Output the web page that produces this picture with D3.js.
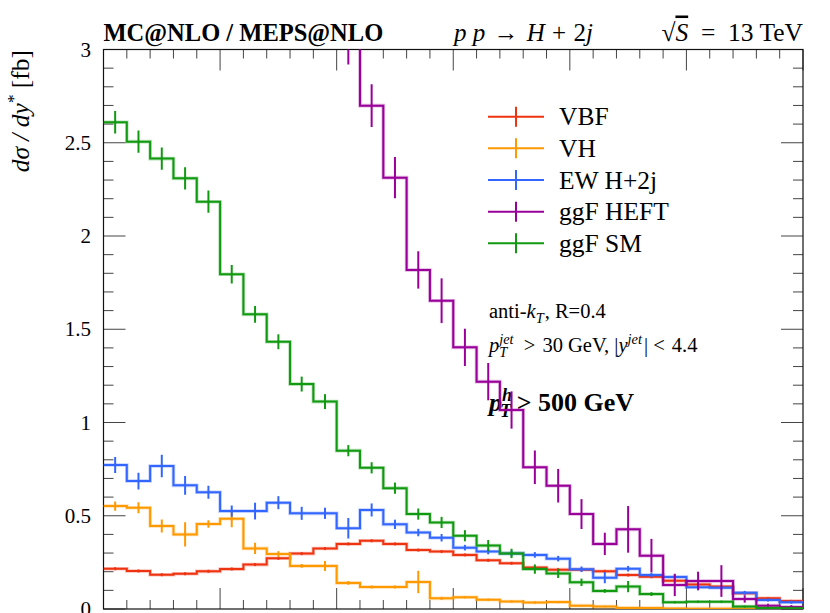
<!DOCTYPE html>
<html>
<head>
<meta charset="utf-8">
<script src="https://cdn.jsdelivr.net/npm/d3@7"></script>
<style>
  html, body { margin: 0; padding: 0; background: #fff; }
  svg { display: block; font-family: "Liberation Serif", "DejaVu Serif", serif; }
  text { white-space: pre; }
</style>
</head>
<body>
<svg id="chart" width="830" height="613"></svg>
<script>
// -------------------- DATA -------------------- //
const binEdges = [0, 0.1, 0.2, 0.3, 0.4, 0.5, 0.6, 0.7, 0.8, 0.9, 1.0, 1.1, 1.2, 1.3, 1.4, 1.5,
                  1.6, 1.7, 1.8, 1.9, 2.0, 2.1, 2.2, 2.3, 2.4, 2.5, 2.6, 2.7, 2.8, 2.9, 3.0];

const vbf    = [0.216, 0.204, 0.184, 0.189, 0.202, 0.214, 0.238, 0.272, 0.297, 0.324, 0.349, 0.366, 0.349, 0.316, 0.308,
                0.290, 0.261, 0.245, 0.222, 0.211, 0.211, 0.202, 0.182, 0.173, 0.152, 0.132, 0.120, 0.084, 0.057, 0.043];
const vbfErr = [0.008, 0.008, 0.008, 0.008, 0.008, 0.008, 0.008, 0.008, 0.008, 0.008, 0.008, 0.008, 0.008, 0.008, 0.008,
                0.008, 0.008, 0.008, 0.008, 0.008, 0.008, 0.008, 0.008, 0.008, 0.008, 0.008, 0.008, 0.006, 0.006, 0.006];

const vh     = [0.552, 0.543, 0.445, 0.400, 0.456, 0.484, 0.325, 0.295, 0.231, 0.231, 0.140, 0.118, 0.118, 0.145, 0.057,
                0.063, 0.050, 0.040, 0.035, 0.037, 0.018, 0.013, 0.006, 0.005, 0.003, 0.002, 0.002, 0.001, 0.001, 0.001];
const vhErr  = [0.025, 0.030, 0.035, 0.065, 0.020, 0.045, 0.030, 0.015, 0.010, 0.027, 0.010, 0.008, 0.008, 0.060, 0.008,
                0.006, 0.006, 0.006, 0.006, 0.006, 0.004, 0.004, 0.003, 0.003, 0.002, 0.002, 0.002, 0.001, 0.001, 0.001];

const ew     = [0.772, 0.686, 0.767, 0.663, 0.626, 0.525, 0.525, 0.570, 0.513, 0.513, 0.433, 0.531, 0.454, 0.410, 0.382,
                0.329, 0.308, 0.298, 0.290, 0.270, 0.213, 0.168, 0.216, 0.182, 0.172, 0.117, 0.114, 0.087, 0.048, 0.036];
const ewErr  = [0.043, 0.045, 0.060, 0.050, 0.035, 0.030, 0.045, 0.035, 0.035, 0.030, 0.055, 0.035, 0.025, 0.020, 0.020,
                0.015, 0.015, 0.015, 0.015, 0.015, 0.015, 0.030, 0.015, 0.012, 0.012, 0.010, 0.010, 0.010, 0.008, 0.008];

// ggF HEFT runs off the top of the frame for the first bins
const heft    = [null, null, null, null, null, null, null, null, null, null, 3.030, 2.699, 2.313, 1.818, 1.653,
                 1.403, 1.219, 1.067, 0.760, 0.661, 0.509, 0.349, 0.427, 0.286, 0.129, 0.150, 0.150, 0.054, 0.018, 0.011];
const heftErr = [null, null, null, null, null, null, null, null, null, null, 0.110, 0.115, 0.110, 0.100, 0.120,
                 0.100, 0.100, 0.100, 0.090, 0.090, 0.080, 0.060, 0.125, 0.090, 0.060, 0.050, 0.085, 0.020, 0.010, 0.010];

const sm     = [2.610, 2.506, 2.415, 2.309, 2.184, 1.795, 1.580, 1.433, 1.206, 1.112, 0.849, 0.757, 0.648, 0.509, 0.464,
                0.393, 0.340, 0.298, 0.214, 0.191, 0.143, 0.097, 0.120, 0.080, 0.036, 0.039, 0.039, 0.013, 0.005, 0.004];
const smErr  = [0.060, 0.060, 0.060, 0.060, 0.060, 0.050, 0.045, 0.040, 0.040, 0.040, 0.030, 0.030, 0.030, 0.030, 0.030,
                0.030, 0.030, 0.025, 0.025, 0.025, 0.020, 0.010, 0.030, 0.010, 0.006, 0.006, 0.006, 0.005, 0.004, 0.004];

const seriesNames  = ["VBF", "VH", "EW H+2j", "ggF HEFT", "ggF SM"];
const seriesColors = ["#EE3311", "#FF9900", "#3366FF", "#990099", "#119911"];

const yTickLabels = ["0", "0.5", "1", "1.5", "2", "2.5", "3"];

// -------------------- SETUP -------------------- //
const svg = d3.select("#chart");

const plotLeft = 103.5, plotRight = 803, plotTop = 49.5, plotBottom = 609;

let x = d3.scaleLinear().domain([0, 3]).range([plotLeft, plotRight]);
let y = d3.scaleLinear().domain([0, 3]).range([plotBottom, plotTop]);

svg.append("clipPath").attr("id", "plotclip")
    .append("rect")
    .attr("x", plotLeft).attr("y", plotTop)
    .attr("width", plotRight - plotLeft).attr("height", plotBottom - plotTop);

// one <text> per label, sub/superscripts as shifted tspans
function richText(x0, yb, size, weight, pieces, anchor) {
    let t = svg.append("text")
        .attr("x", x0).attr("y", yb)
        .attr("font-size", size).attr("font-weight", weight)
        .attr("text-anchor", anchor || "start");
    let shift = 0, pending = 0;
    function span(txt, o) {
        let s = t.append("tspan")
            .attr("dy", o.shift - shift)
            .attr("dx", o.dx || 0)
            .attr("font-size", o.size)
            .attr("font-style", o.it ? "italic" : "normal")
            .text(txt);
        if (o.over) s.style("text-decoration", "overline");
        shift = o.shift;
        return s;
    }
    pieces.forEach(p => {
        if (p.sup != null || p.sub != null) {
            let ss = size * 0.7, wSup = 0, wSub = 0;
            if (p.sup != null) {
                let s = span(p.sup, {shift: -size * 0.4, size: ss, it: true, dx: pending + (p.supdx || 0)});
                wSup = s.node().getComputedTextLength() + (p.supdx || 0);
                pending = 0;
            }
            if (p.sub != null) {
                let back = p.sup != null ? -wSup : 0;
                let s = span(p.sub, {shift: size * 0.22, size: ss, it: true, dx: pending + back + (p.subdx || 0)});
                wSub = s.node().getComputedTextLength() + (p.subdx || 0);
                pending = 0;
            }
            if (p.sup != null && p.sub != null) pending += Math.max(0, wSup - wSub);
            pending += p.after || 0;
        } else {
            span(p.t, {shift: 0, size: size, it: p.it, over: p.over, dx: pending + (p.dx || 0)});
            pending = 0;
        }
    });
    return t;
}

// -------------------- TICKS + FRAME -------------------- //
const ticks = svg.append("g").attr("stroke", "#444").attr("stroke-width", 1);
const minorY = d3.range(0, 31).map(d => d / 10);   // tick positions on y every 0.1
minorY.forEach(v => {
    let major = Math.abs(v * 2 - Math.round(v * 2)) < 1e-6;
    let len = major ? 22 : 10;
    ticks.append("line").attr("x1", plotLeft).attr("x2", plotLeft + len).attr("y1", y(v)).attr("y2", y(v));
    ticks.append("line").attr("x1", plotRight).attr("x2", plotRight - len).attr("y1", y(v)).attr("y2", y(v));
});
binEdges.forEach(v => {
    let major = Math.abs(v * 2 - Math.round(v * 2)) < 1e-6;
    let len = major ? 21 : 9;
    ticks.append("line").attr("x1", x(v)).attr("x2", x(v)).attr("y1", plotTop).attr("y2", plotTop + len);
    ticks.append("line").attr("x1", x(v)).attr("x2", x(v)).attr("y1", plotBottom).attr("y2", plotBottom - len);
});

svg.append("rect")
    .attr("x", plotLeft).attr("y", plotTop)
    .attr("width", plotRight - plotLeft).attr("height", plotBottom - plotTop)
    .attr("fill", "none").attr("stroke", "#111").attr("stroke-width", 1.2);

// y tick labels
svg.append("g").selectAll("text")
    .data(yTickLabels)
    .join("text")
    .attr("x", 91)
    .attr("y", d => y(+d) + 7)
    .attr("text-anchor", "end")
    .attr("font-size", 21)
    .text(d => d);

// y axis title
const ylab = svg.append("text")
    .attr("transform", "translate(29,50) rotate(-90)")
    .attr("text-anchor", "end")
    .attr("font-size", 25.5);
ylab.append("tspan").attr("font-style", "italic").text("dσ / dy");
ylab.append("tspan").attr("font-size", 17).attr("dy", -10).text("*");
ylab.append("tspan").attr("dy", 10).text(" [fb]");

// -------------------- HEADER -------------------- //
svg.append("text")
    .attr("x", plotLeft).attr("y", 40.5)
    .attr("font-size", 24.5).attr("font-weight", "bold")
    .text("MC@NLO / MEPS@NLO");

richText(454, 40.5, 25, "normal", [
    {t: "p p", it: true}, {t: " → ", dx: 2}, {t: "H", it: true, dx: 2}, {t: " + ", dx: 1}, {t: "2", dx: 1}, {t: "j", it: true}
]);

richText(plotRight, 40.5, 25.5, "normal", [
    {t: "√"}, {t: "S", it: true, over: true}, {t: "  =  13 TeV"}
], "end");

// -------------------- ANNOTATIONS -------------------- //
richText(489, 318, 20.5, "normal", [
    {t: "anti-"}, {t: "k", it: true}, {sub: "T", after: 1}, {t: ", R=0.4"}
]);

richText(489, 352, 20.5, "normal", [
    {t: "p", it: true}, {sup: "jet", sub: "T", after: 3}, {t: " > ", dx: 2}, {t: "30 GeV, |", dx: 2}, {t: "y", it: true},
    {sup: "jet", after: 2}, {t: "| < "}, {t: "4.4", dx: 2}
]);

richText(489, 411, 26, "bold", [
    {t: "p", it: true}, {sup: "h", sub: "T", supdx: 0, subdx: -2, after: -2}, {t: " > 500 GeV"}
]);

// -------------------- HISTOGRAMS -------------------- //
const allSeries = [
    {name: seriesNames[0], color: seriesColors[0], vals: vbf,  errs: vbfErr},
    {name: seriesNames[1], color: seriesColors[1], vals: vh,   errs: vhErr},
    {name: seriesNames[2], color: seriesColors[2], vals: ew,   errs: ewErr},
    {name: seriesNames[3], color: seriesColors[3], vals: heft, errs: heftErr},
    {name: seriesNames[4], color: seriesColors[4], vals: sm,   errs: smErr},
];

const plot = svg.append("g").attr("clip-path", "url(#plotclip)");

let line = d3.line()
    .defined(d => d.v != null)
    .x(d => x(d.x))
    .y(d => y(d.v));

allSeries.forEach(s => {
    let pts = [];
    s.vals.forEach((v, i) => {
        pts.push({x: binEdges[i], v: v});
        pts.push({x: binEdges[i + 1], v: v});
    });
    let g = plot.append("g");
    // soft halo like the anti-aliased original
    g.append("path").attr("d", line(pts))
        .attr("fill", "none").attr("stroke", s.color)
        .attr("stroke-opacity", 0.3).attr("stroke-width", 3.6);
    g.append("path").attr("d", line(pts))
        .attr("fill", "none").attr("stroke", s.color)
        .attr("stroke-width", 2);
    s.vals.forEach((v, i) => {
        if (v == null) return;
        let xc = x((binEdges[i] + binEdges[i + 1]) / 2);
        g.append("line")
            .attr("x1", xc).attr("x2", xc)
            .attr("y1", y(v - s.errs[i])).attr("y2", y(v + s.errs[i]))
            .attr("stroke", s.color).attr("stroke-width", 2);
    });
});

// -------------------- LEGEND -------------------- //
const legend = svg.append("g");
const legRowY = [116.7, 148.3, 180, 211.7, 243.3];
allSeries.forEach((s, i) => {
    let ly = legRowY[i];
    legend.append("line").attr("x1", 488).attr("x2", 544).attr("y1", ly).attr("y2", ly)
        .attr("stroke", s.color).attr("stroke-width", 2);
    legend.append("line").attr("x1", 516).attr("x2", 516).attr("y1", ly - 10).attr("y2", ly + 10)
        .attr("stroke", s.color).attr("stroke-width", 2);
    legend.append("text").attr("x", 559).attr("y", ly + 8.5)
        .attr("font-size", 25.5).text(s.name);
});
</script>
</body>
</html>
